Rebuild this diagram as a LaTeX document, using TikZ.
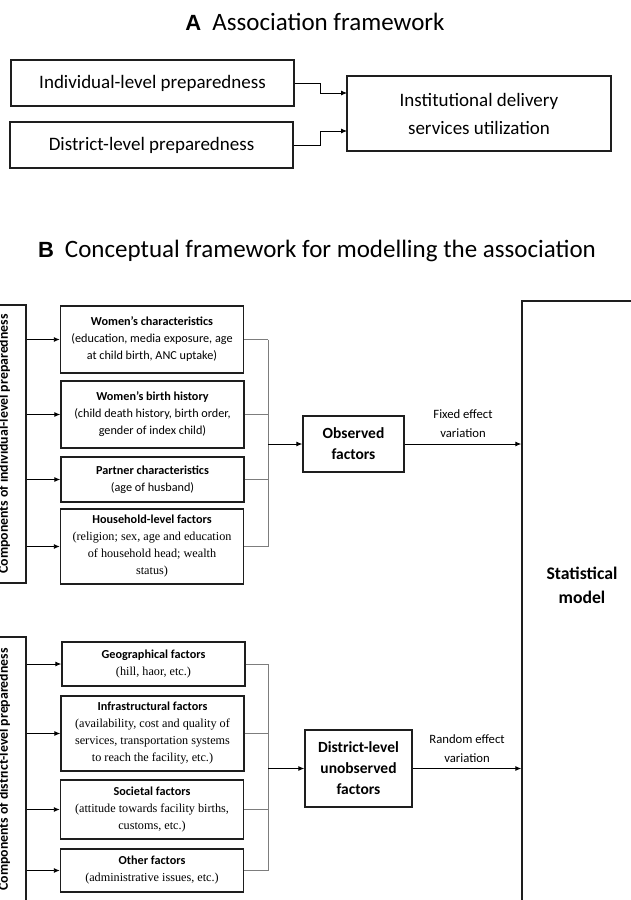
\documentclass[tikz,border=0pt]{standalone}
\usepackage{fontspec}
\newfontfamily\calibri{Carlito}
\newfontfamily\serifbody{Liberation Serif}
\newfontfamily\arialbf{Liberation Sans}
\usetikzlibrary{arrows.meta,positioning}
\definecolor{boxline}{RGB}{30,30,30}
\definecolor{linegray}{RGB}{125,125,125}

\begin{document}
\begin{tikzpicture}[x=1pt,y=-1pt,>={Latex[length=6pt,width=5pt]},
  frame/.style={draw=boxline,line width=1.4pt,inner sep=2pt,align=center},
  prep/.style={frame,line width=1.2pt,minimum width=283pt,minimum height=46pt,
    font=\calibri\fontsize{19}{28}\selectfont},
  factor/.style={frame,minimum width=183pt,font=\calibri\fontsize{12.2}{17}\selectfont},
  component/.style={frame,rotate=90,minimum height=44pt,
    font=\calibri\bfseries\fontsize{13.8}{16}\selectfont},
  latent/.style={frame,font=\calibri\bfseries\fontsize{15.5}{21}\selectfont},
  effect/.style={font=\calibri\fontsize{12.7}{19}\selectfont,align=center},
  heading/.style={anchor=base,font=\calibri\fontsize{25}{30}\selectfont},
  feed/.style={->,line width=0.9pt,black},
  bus/.style={line width=0.9pt,linegray}]

  \useasboundingbox (0,0) rectangle (631,900);
  \clip (0,0) rectangle (631,900);

  % A: association framework
  \node[heading] (titleA) at (315,30)
    {{\arialbf\bfseries\fontsize{22}{26}\selectfont A}\hspace{11pt}Association framework};
  \node[prep] (indivA) at (152.5,83) {Individual-level preparedness};
  \node[prep] (distA) at (151.5,145) {District-level preparedness};
  \node[prep,minimum width=264pt,minimum height=75pt] (idsu) at (479,113.5)
    {Institutional delivery\\services utilization};
  \coordinate (busA) at (320,0);
  \coordinate (inA) at (347,93);
  \coordinate (inB) at (347,131);
  \draw[feed,line width=0.8pt] (indivA.east) -- (indivA.east -| busA) |- (inA);
  \draw[feed,line width=0.8pt] (distA.east) -- (distA.east -| busA) |- (inB);

  % B: conceptual framework
  \node[heading] (titleB) at (317,257)
    {{\arialbf\bfseries\fontsize{22}{26}\selectfont B}\hspace{11pt}Conceptual framework for modelling the association};

  \node[component,minimum width=278pt] (indivB) at (4,444)
    {Components of individual-level preparedness};
  \node[factor,minimum height=67pt] (wc) at (152,339.5)
    {\textbf{Women’s characteristics}\\(education, media exposure, age\\at child birth, ANC uptake)};
  \node[factor,minimum height=67pt] (wb) at (152.5,414.5)
    {\textbf{Women’s birth history}\\(child death history, birth order,\\gender of index child)};
  \node[factor,minimum height=45pt] (pc) at (152.5,479.5)
    {\textbf{Partner characteristics}\\(age of husband)};
  \node[factor,minimum height=75pt] (hh) at (152,546.5)
    {\textbf{Household-level factors}\\{\serifbody (religion; sex, age and education}\\
     {\serifbody of household head; wealth}\\{\serifbody status)}};

  \node[component,minimum width=265pt] (distB) at (4,769.5)
    {Components of district-level preparedness};
  \node[factor,minimum height=44pt] (geo) at (153.5,664)
    {\textbf{Geographical factors}\\{\serifbody (hill, haor, etc.)}};
  \node[factor,minimum height=75pt] (infra) at (152.5,733.5)
    {\textbf{Infrastructural factors}\\{\serifbody (availability, cost and quality of}\\
     {\serifbody services, transportation systems}\\{\serifbody to reach the facility, etc.)}};
  \node[factor,minimum height=59pt] (soc) at (152,809.5)
    {\textbf{Societal factors}\\{\serifbody (attitude towards facility births,}\\
     {\serifbody customs, etc.)}};
  \node[factor,minimum height=43pt] (other) at (152,870.5)
    {\textbf{Other factors}\\{\serifbody (administrative issues, etc.)}};

  \node[latent,minimum width=101pt,minimum height=56pt] (obs) at (353.5,444)
    {Observed\\factors};
  \node[latent,minimum width=107pt,minimum height=77pt] (unobs) at (358.5,768.5)
    {District-level\\unobserved\\factors};

  \node[frame,minimum width=120pt,minimum height=620pt] (stat) at (582,611) {};
  \node[font=\calibri\bfseries\fontsize{17.7}{24}\selectfont,align=center] (stattxt)
    at (582,585) {Statistical\\model};

  % feeders from the components
  \foreach \b in {wc,wb,pc,hh}{\draw[feed] (indivB.south |- \b.west) -- (\b.west);}
  \foreach \b in {geo,infra,soc,other}{\draw[feed] (distB.south |- \b.west) -- (\b.west);}

  % grey collectors
  \coordinate (busU) at (268,0);
  \foreach \b in {wc,wb,pc,hh}{\draw[bus] (\b.east) -- (\b.east -| busU);}
  \draw[bus] (wc.east -| busU) -- (hh.east -| busU);
  \draw[feed] (obs.west -| busU) -- (obs.west);
  \foreach \b in {geo,infra,soc,other}{\draw[bus] (\b.east) -- (\b.east -| busU);}
  \draw[bus] (geo.east -| busU) -- (other.east -| busU);
  \draw[feed] (unobs.west -| busU) -- (unobs.west);

  \draw[feed] (obs.east) -- (obs.east -| stat.west)
    node[midway,yshift=20.5pt,effect] {Fixed effect\\variation};
  \draw[feed] (unobs.east) -- (unobs.east -| stat.west)
    node[midway,yshift=19.5pt,effect] {Random effect\\variation};
\end{tikzpicture}
\end{document}
